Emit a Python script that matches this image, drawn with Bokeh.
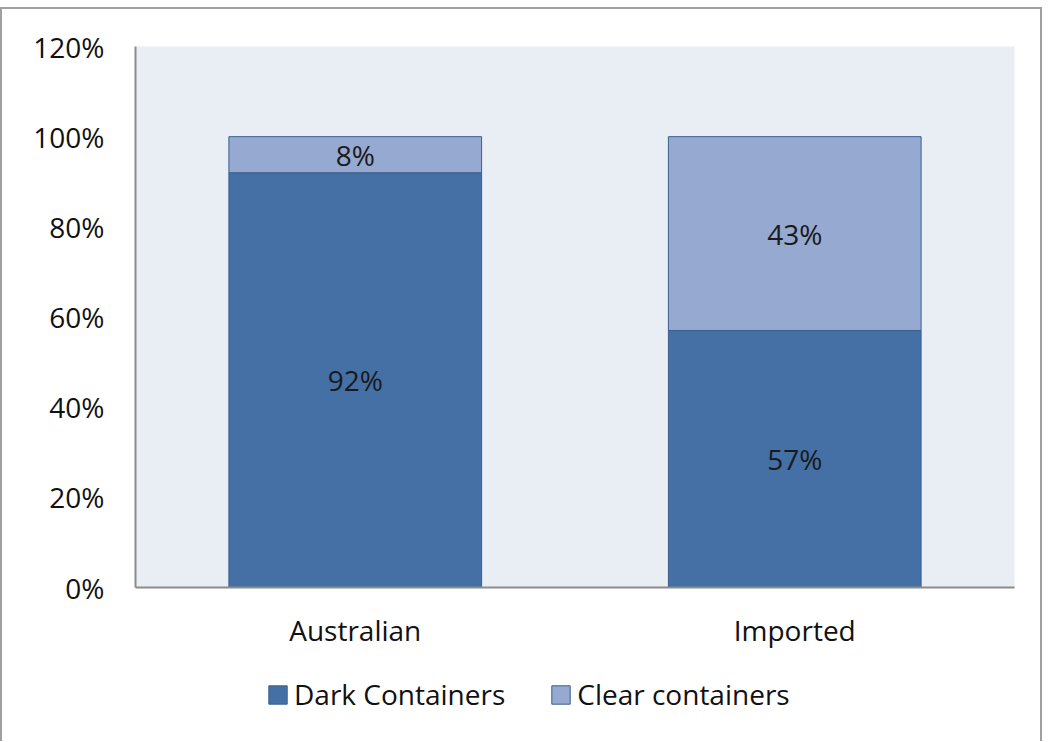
from bokeh.plotting import figure
from bokeh.models import ColumnDataSource, FactorRange, Legend, LegendItem, NumeralTickFormatter, FixedTicker, LabelSet, Spacer
from bokeh.layouts import column
from bokeh.core.properties import value
from bokeh.embed import file_html
from bokeh.resources import INLINE

categories = ["Australian", "Imported"]
series = ["Dark Containers", "Clear containers"]
dark = [0.92, 0.57]
clear = [0.08, 0.43]
dark_labels = ["92%", "57%"]
clear_labels = ["8%", "43%"]
y_ticks = [0, 0.2, 0.4, 0.6, 0.8, 1.0, 1.2]

FONT = "Open Sans"
FS = "28px"
DARK = "#4470a6"
LIGHT = "#95a9d1"
EDGE = "#3b5f8e"
BORDER = "2px solid #a0a0a0"

src = ColumnDataSource(dict(
    cat=categories, dark=dark, clear=clear,
    dark_mid=[d / 2 for d in dark],
    clear_mid=[d + c / 2 for d, c in zip(dark, clear)],
    dark_lab=dark_labels, clear_lab=clear_labels,
))

p = figure(x_range=FactorRange(*categories, range_padding=0), y_range=(0, 1.2),
           width=1042, height=642, output_backend="svg", toolbar_location=None,
           min_border_left=133, min_border_right=30, min_border_top=37, min_border_bottom=62)
p.styles = {"border-top": BORDER, "border-left": BORDER, "border-right": BORDER}

p.background_fill_color = "#e9edf4"
p.border_fill_color = "white"
p.outline_line_color = None
p.xgrid.grid_line_color = None
p.ygrid.grid_line_color = None

rs = p.vbar_stack(["dark", "clear"], x="cat", width=0.575, source=src,
                  color=[DARK, LIGHT], line_color=EDGE, line_width=1)

for ycol, tcol in (("dark_mid", "dark_lab"), ("clear_mid", "clear_lab")):
    p.add_layout(LabelSet(x="cat", y=ycol, text=tcol, source=src, text_align="center",
                          text_baseline="middle", text_font=value(FONT), text_font_size=FS,
                          text_color="#1a1a1a"))

p.yaxis.ticker = FixedTicker(ticks=y_ticks)
p.yaxis.formatter = NumeralTickFormatter(format="0%")
for ax in (p.xaxis, p.yaxis):
    ax.axis_line_color = "#8c8c8c"
    ax.axis_line_width = 2
    ax.major_tick_line_color = None
    ax.minor_tick_line_color = None
    ax.major_label_text_font = FONT
    ax.major_label_text_font_size = FS
    ax.major_label_text_color = "#111111"
p.yaxis.major_label_standoff = 25
p.xaxis.major_label_standoff = 17

# legend strip below the chart (its frame is aligned with the chart's frame)
lg = figure(width=1042, height=92, output_backend="svg", toolbar_location=None,
            x_range=FactorRange(*series), y_range=(1, 2), min_border=0)
lg.styles = {"border-left": BORDER, "border-right": BORDER}
lg.axis.visible = False
lg.grid.visible = False
lg.outline_line_color = None
swatch = ColumnDataSource(dict(name=series, zero=[0] * len(series)))
r1 = lg.vbar(x="name", top="zero", width=0.1, source=swatch, fill_color=DARK, line_color=EDGE)
r2 = lg.vbar(x="name", top="zero", width=0.1, source=swatch, fill_color=LIGHT, line_color=EDGE)
legend = Legend(items=[LegendItem(label=series[0], renderers=[r1]),
                       LegendItem(label=series[1], renderers=[r2])],
                location=(131, 28), orientation="horizontal",
                label_text_font=FONT, label_text_font_size=FS, label_text_color="#111111",
                glyph_width=23, glyph_height=23, label_standoff=5, spacing=44,
                padding=0, margin=0, border_line_color=None, background_fill_alpha=0)
lg.add_layout(legend, "center")

layout = column(Spacer(height=7), p, lg, spacing=0)
open("out.html", "w").write(file_html(layout, INLINE))
